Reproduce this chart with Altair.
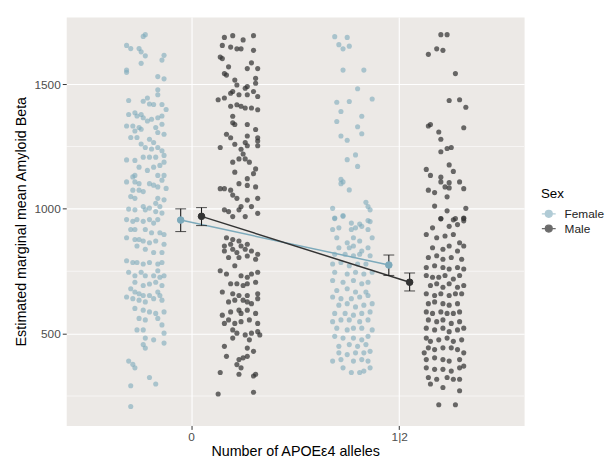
import altair as alt
import pandas as pd

# ---- data ----
sexes = ["Female", "Male"]
x_ticks = [0, 1]
x_tick_labels = ["0", "1|2"]
y_ticks = [500, 1000, 1500]
minor_breaks = [250, 750, 1250]

# estimated marginal means (dodged x positions) with confidence limits
emm_sex = ["Female", "Male", "Female", "Male"]
emm_x = [-0.05, 0.05, 0.95, 1.05]
emm_y = [955, 970, 775, 706]
emm_lo = [909, 933, 733, 671]
emm_hi = [1000, 1005, 815, 743]

# jittered raw observations (x, y)
female_0 = [(-0.22,1698),(-0.23,1691),(-0.31,1655),(-0.29,1642),(-0.25,1642),(-0.24,1629),(-0.22,1613),(-0.24,1583),
    (-0.13,1615),(-0.14,1596),(-0.31,1556),(-0.31,1547),(-0.16,1530),(-0.13,1521),(-0.16,1477),(-0.16,1457),
    (-0.30,1434),(-0.21,1444),(-0.23,1431),(-0.20,1420),(-0.18,1418),(-0.14,1418),(-0.12,1398),(-0.30,1378),
    (-0.27,1385),(-0.26,1372),(-0.24,1378),(-0.23,1365),(-0.21,1352),(-0.19,1359),(-0.16,1365),(-0.14,1372),
    (-0.31,1332),(-0.28,1332),(-0.27,1312),(-0.25,1326),(-0.24,1319),(-0.17,1326),(-0.14,1339),(-0.16,1306),
    (-0.29,1286),(-0.26,1286),(-0.20,1279),(-0.18,1266),(-0.13,1299),(-0.24,1260),(-0.22,1246),(-0.19,1240),
    (-0.16,1246),(-0.14,1233),(-0.13,1214),(-0.31,1196),(-0.27,1194),(-0.23,1207),(-0.20,1207),(-0.17,1207),
    (-0.13,1187),(-0.15,1174),(-0.18,1167),(-0.21,1154),(-0.25,1167),(-0.27,1134),(-0.28,1128),(-0.16,1134),
    (-0.13,1134),(-0.14,1115),(-0.27,1108),(-0.25,1101),(-0.20,1101),(-0.18,1095),(-0.16,1088),(-0.28,1075),
    (-0.25,1075),(-0.23,1069),(-0.29,1049),(-0.27,1042),(-0.16,1042),(-0.13,1036),(-0.17,1022),(-0.23,1009),
    (-0.20,1003),(-0.15,1009),(-0.30,999),(-0.27,996),(-0.22,996),(-0.17,989),(-0.14,983),(-0.31,957),
    (-0.28,950),(-0.26,957),(-0.23,950),(-0.20,957),(-0.18,943),(-0.16,957),(-0.29,917),(-0.27,917),
    (-0.22,917),(-0.19,904),(-0.15,904),(-0.13,897),(-0.31,884),(-0.27,877),(-0.25,877),(-0.23,871),
    (-0.20,864),(-0.17,871),(-0.26,851),(-0.22,838),(-0.18,825),(-0.14,825),(-0.13,858),(-0.31,792),
    (-0.28,785),(-0.26,785),(-0.23,779),(-0.20,785),(-0.16,779),(-0.14,785),(-0.16,752),(-0.30,746),
    (-0.27,732),(-0.24,746),(-0.22,732),(-0.18,732),(-0.15,726),(-0.13,732),(-0.27,706),(-0.23,693),
    (-0.20,699),(-0.17,706),(-0.14,693),(-0.29,680),(-0.27,667),(-0.25,660),(-0.23,653),(-0.20,653),
    (-0.16,667),(-0.15,653),(-0.31,647),(-0.28,640),(-0.25,634),(-0.22,627),(-0.18,640),(-0.14,634),
    (-0.27,601),(-0.23,594),(-0.20,587),(-0.17,581),(-0.13,587),(-0.25,561),(-0.22,555),(-0.16,561),
    (-0.26,515),(-0.23,515),(-0.14,535),(-0.13,502),(-0.22,482),(-0.18,475),(-0.13,462),(-0.23,456),
    (-0.22,442),(-0.30,390),(-0.28,377),(-0.27,363),(-0.29,291),(-0.20,324),(-0.17,298),(-0.29,208),
    (-0.31,1108),(-0.12,1082)]

male_0 = [(0.16,1687),(0.20,1694),(0.25,1677),(0.30,1694),(0.15,1655),(0.19,1648),(0.22,1641),(0.24,1641),
    (0.14,1608),(0.15,1602),(0.30,1635),(0.18,1569),(0.27,1562),(0.32,1562),(0.29,1585),(0.16,1542),
    (0.17,1536),(0.21,1516),(0.31,1523),(0.31,1503),(0.27,1490),(0.22,1496),(0.26,1483),(0.20,1470),
    (0.19,1463),(0.30,1470),(0.13,1437),(0.16,1444),(0.23,1457),(0.27,1457),(0.32,1450),(0.19,1411),
    (0.22,1417),(0.24,1411),(0.26,1404),(0.29,1404),(0.32,1397),(0.20,1371),(0.20,1345),(0.21,1338),
    (0.27,1338),(0.17,1299),(0.19,1285),(0.14,1246),(0.21,1259),(0.27,1292),(0.31,1318),(0.32,1285),
    (0.32,1272),(0.26,1266),(0.27,1253),(0.24,1239),(0.32,1253),(0.25,1220),(0.23,1200),(0.20,1187),
    (0.26,1200),(0.28,1187),(0.31,1160),(0.30,1141),(0.21,1147),(0.27,1121),(0.23,1101),(0.27,1094),
    (0.14,1081),(0.16,1081),(0.19,1075),(0.20,1055),(0.31,1088),(0.22,1042),(0.32,1042),(0.16,996),
    (0.23,996),(0.27,1035),(0.29,1009),(0.18,989),(0.20,969),(0.26,969),(0.32,982),(0.24,1009),
    (0.17,884),(0.20,877),(0.23,871),(0.16,851),(0.19,858),(0.24,851),(0.27,858),(0.16,831),
    (0.20,838),(0.22,825),(0.26,838),(0.29,831),(0.32,818),(0.18,805),(0.23,805),(0.27,811),
    (0.31,798),(0.21,772),(0.14,752),(0.17,739),(0.24,732),(0.27,726),(0.29,739),(0.32,746),
    (0.19,700),(0.22,700),(0.25,693),(0.27,700),(0.31,706),(0.15,667),(0.20,660),(0.23,653),
    (0.27,653),(0.32,660),(0.18,627),(0.21,634),(0.25,634),(0.27,627),(0.29,620),(0.32,640),
    (0.15,574),(0.19,587),(0.23,594),(0.24,581),(0.27,594),(0.31,581),(0.16,541),(0.18,555),
    (0.21,541),(0.24,548),(0.28,555),(0.32,541),(0.20,515),(0.22,502),(0.26,495),(0.29,502),
    (0.33,495),(0.20,482),(0.28,475),(0.32,508),(0.16,449),(0.27,442),(0.30,429),(0.17,409),
    (0.23,396),(0.25,403),(0.27,409),(0.22,376),(0.24,363),(0.14,344),(0.23,337),(0.30,330),
    (0.31,337),(0.13,258),(0.30,265)]

female_12 = [(0.69,1690),(0.75,1687),(0.71,1658),(0.73,1641),(0.76,1652),(0.73,1556),(0.83,1556),(0.80,1481),
    (0.87,1440),(0.70,1427),(0.76,1430),(0.72,1390),(0.82,1371),(0.70,1350),(0.80,1329),(0.82,1301),
    (0.72,1292),(0.75,1275),(0.79,1216),(0.75,1197),(0.80,1170),(0.72,1118),(0.73,1108),(0.72,1101),
    (0.76,1076),(0.84,1026),(0.85,1009),(0.86,996),(0.68,1002),(0.69,963),(0.73,973),(0.77,943),
    (0.81,939),(0.86,949),
    (0.69,961),(0.73,970),(0.85,953),(0.68,917),(0.71,924),(0.77,917),(0.79,924),(0.82,930),
    (0.85,917),(0.70,884),(0.78,884),(0.75,864),(0.81,871),(0.87,884),(0.71,844),(0.76,844),
    (0.78,851),(0.82,831),(0.85,844),(0.69,818),(0.74,818),(0.78,812),(0.81,818),(0.86,812),
    (0.68,779),(0.72,785),(0.76,772),(0.80,779),(0.84,779),(0.69,746),(0.75,739),(0.79,746),
    (0.83,739),(0.87,746),(0.68,713),(0.73,706),(0.78,713),(0.82,700),(0.85,706),(0.70,673),
    (0.75,680),(0.79,667),(0.84,667),(0.68,647),(0.72,640),(0.77,640),(0.81,647),(0.85,653),
    (0.71,614),(0.75,620),(0.79,607),(0.83,614),(0.87,620),(0.69,581),(0.74,581),(0.78,574),
    (0.82,581),(0.86,587),(0.68,548),(0.72,555),(0.76,555),(0.81,548),(0.85,555),(0.70,522),
    (0.75,515),(0.78,522),(0.82,522),(0.87,515),(0.69,489),(0.73,482),(0.78,482),(0.82,475),
    (0.85,489),(0.71,449),(0.76,456),(0.80,449),(0.84,456),(0.71,423),(0.75,416),(0.79,423),
    (0.83,423),(0.86,429),(0.68,390),(0.72,396),(0.78,390),(0.82,396),(0.85,390),(0.73,363),
    (0.77,344),(0.81,344),(0.83,350),(0.86,363)]

male_12 = [(1.20,1698),(1.23,1698),(1.14,1619),(1.18,1641),(1.21,1635),(1.27,1542),(1.24,1434),(1.29,1437),
    (1.32,1407),(1.14,1332),(1.15,1338),(1.19,1308),(1.20,1279),(1.31,1325),(1.20,1229),(1.23,1242),
    (1.25,1246),(1.24,1176),(1.26,1150),(1.13,1158),(1.15,1134),(1.20,1127),(1.20,1108),(1.24,1105),
    (1.22,1088),(1.24,1084),(1.29,1108),(1.31,1081),(1.14,1075),(1.17,1065),(1.23,1048),(1.17,1011),
    (1.23,992),(1.32,1002),(1.20,960),(1.26,956),(1.31,963),(1.31,952),
    (1.20,961),(1.27,961),(1.31,961),(1.16,924),(1.24,930),(1.28,937),(1.13,897),(1.18,884),
    (1.22,891),(1.26,897),(1.29,864),(1.31,851),(1.16,844),(1.21,838),(1.24,851),(1.28,831),
    (1.14,805),(1.18,812),(1.21,798),(1.25,805),(1.30,798),(1.13,765),(1.17,772),(1.21,765),
    (1.24,759),(1.28,765),(1.31,759),(1.13,733),(1.16,726),(1.19,726),(1.22,733),(1.26,719),
    (1.29,733),(1.15,693),(1.18,700),(1.21,686),(1.24,700),(1.28,686),(1.31,693),(1.13,660),
    (1.17,653),(1.20,660),(1.24,653),(1.27,660),(1.30,660),(1.14,620),(1.17,627),(1.21,620),
    (1.24,614),(1.28,620),(1.13,587),(1.16,581),(1.20,587),(1.23,581),(1.26,581),(1.29,587),
    (1.14,555),(1.18,548),(1.21,555),(1.25,541),(1.29,548),(1.13,522),(1.17,515),(1.21,522),
    (1.24,508),(1.28,515),(1.31,522),(1.13,482),(1.15,469),(1.19,475),(1.23,482),(1.26,469),
    (1.30,475),(1.14,443),(1.17,436),(1.21,443),(1.25,443),(1.28,436),(1.13,396),(1.17,403),
    (1.21,396),(1.24,390),(1.29,396),(1.13,363),(1.17,357),(1.21,357),(1.25,350),(1.29,363),
    (1.14,324),(1.18,317),(1.23,324),(1.26,317),(1.29,317),(1.15,298),(1.21,284),(1.29,271),
    (1.19,215),(1.27,215),(1.31,370),(1.12,423),(1.31,423)]

colors = ["#7DAABB", "#333333"]

# ---- tables ----
rows = []
for sex, pts in [("Female", female_0), ("Male", male_0), ("Female", female_12), ("Male", male_12)]:
    for x, y in pts:
        rows.append({"sex": sex, "x": x, "y": y})
raw = pd.DataFrame(rows)
emm = pd.DataFrame({"sex": emm_sex, "x": emm_x, "y": emm_y, "lo": emm_lo, "hi": emm_hi})
minor = pd.DataFrame({"y": minor_breaks})

xscale = alt.Scale(domain=[-0.6, 1.6], nice=False, zero=False)
yscale = alt.Scale(domain=[132, 1769], nice=False, zero=False)
cscale = alt.Scale(domain=sexes, range=colors)

label_expr = "datum.value == 0 ? '" + x_tick_labels[0] + "' : '" + x_tick_labels[1] + "'"
xaxis = alt.Axis(values=x_ticks, labelExpr=label_expr, title="Number of APOEε4 alleles",
                 titlePadding=2)
yaxis = alt.Axis(values=y_ticks, format="d", title="Estimated marginal mean Amyloid Beta",
                 titlePadding=6)

X = alt.X("x:Q", scale=xscale, axis=xaxis)
Y = alt.Y("y:Q", scale=yscale, axis=yaxis)

sym = "M-1,0H1M-0.5,0A0.5,0.5 0 1,0 0.5,0A0.5,0.5 0 1,0 -0.5,0"
leg = alt.Legend(title="Sex", orient="none", legendX=481, legendY=172,
                 symbolType=sym, symbolSize=196, symbolStrokeWidth=1.3, symbolOpacity=1,
                 labelFont="Liberation Sans", labelFontSize=12, labelColor="#222222",
                 titleFont="Liberation Sans", titleFontSize=13.5, titleFontWeight="normal",
                 titleColor="#000000", titlePadding=6, rowPadding=-1, labelOffset=8)

FILL = alt.Fill("sex:N", scale=cscale, legend=leg)
STROKE = alt.Stroke("sex:N", scale=cscale, legend=leg)

minor_grid = alt.Chart(minor).mark_rule(color="white", strokeWidth=0.6).encode(y=Y)

scatter = alt.Chart(raw).mark_circle(size=27).encode(
    x=X, y=Y, fill=FILL,
    opacity=alt.Opacity("sex:N", scale=alt.Scale(domain=sexes, range=[0.6, 0.72]), legend=None),
)

lines = alt.Chart(emm).mark_line(strokeWidth=1.5).encode(
    x=X, y=Y, stroke=STROKE, detail="sex:N")

err = alt.Chart(emm).mark_rule(color="#1a1a1a", strokeWidth=1.1).encode(
    x=X, y=alt.Y("lo:Q", scale=yscale, axis=yaxis), y2="hi:Q")
cap_lo = alt.Chart(emm).mark_tick(orient="horizontal", size=11, thickness=1.1, color="#1a1a1a").encode(
    x=X, y=alt.Y("lo:Q", scale=yscale, axis=yaxis))
cap_hi = alt.Chart(emm).mark_tick(orient="horizontal", size=11, thickness=1.1, color="#1a1a1a").encode(
    x=X, y=alt.Y("hi:Q", scale=yscale, axis=yaxis))

points = alt.Chart(emm).mark_point(filled=True, size=45, opacity=1, strokeWidth=1).encode(
    x=X, y=Y, fill=FILL, stroke=STROKE)

chart = alt.layer(minor_grid, scatter, lines, err, cap_lo, cap_hi, points).properties(
    width=464, height=414,
    autosize=alt.AutoSizeParams(type="none"),
    padding={"left": 59, "top": 6, "right": 84, "bottom": 36},
).configure_view(fill="#ECE9E6", stroke="transparent").configure_axis(
    labelFont="Liberation Sans", labelFontSize=12, labelColor="#4D4D4D",
    titleFont="Liberation Sans", titleFontSize=14.5, titleFontWeight="normal", titleColor="#000000",
    tickColor="#333333", tickSize=4, labelPadding=2, domain=False,
    grid=True, gridColor="#FFFFFF", gridWidth=1.1,
)

chart.save("out.html", embed_options={"renderer": "svg", "actions": False})
